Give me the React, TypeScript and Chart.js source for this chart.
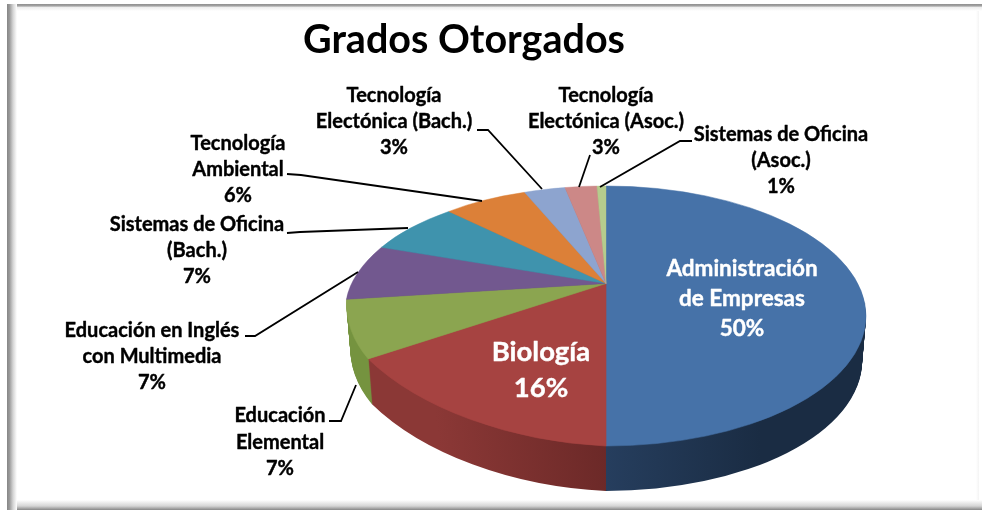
import React, { useEffect, useRef } from "react";
import { Chart, registerables } from "chart.js";

Chart.register(...registerables);

const chartTitle = "Grados Otorgados";
const categories = [
  "Administración de Empresas",
  "Biología",
  "Educación Elemental",
  "Educación en Inglés con Multimedia",
  "Sistemas de Oficina (Bach.)",
  "Tecnología Ambiental",
  "Tecnología Electónica (Bach.)",
  "Tecnología Electónica (Asoc.)",
  "Sistemas de Oficina (Asoc.)",
];
const shares = [50, 16, 7, 7.2, 7, 6.4, 3.2, 2.5, 0.7];
const topColors = ["#4672a8", "#a64341", "#8ba550", "#72588f", "#3f93ad", "#dc8038", "#8da4cf", "#cc8887", "#b5cc8d"];
const sideLeft = ["#263e5e", "#8b3836", "#82a14a", "#4f3d66", "#2b677a", "#9c5a27", "#64749a", "#905f5f", "#809264"];
const sideRight = ["#1a2c43", "#5f2322", "#75933f", "#4f3d66", "#2b677a", "#9c5a27", "#64749a", "#905f5f", "#809264"];
const labelLines = [
  ["Administración", "de Empresas"],
  ["Biología"],
  ["Educación", "Elemental"],
  ["Educación en Inglés", "con Multimedia"],
  ["Sistemas de Oficina", "(Bach.)"],
  ["Tecnología", "Ambiental"],
  ["Tecnología", "Electónica (Bach.)"],
  ["Tecnología", "Electónica (Asoc.)"],
  ["Sistemas de Oficina", "(Asoc.)"],
];
// label layout: centre x, first baseline y, line height, font size, colour
const labelLayout: [number, number, number, number, string][] = [
  [742, 276, 30, 22.5, "#ffffff"],
  [541, 361, 36, 27.5, "#ffffff"],
  [280, 422, 26.5, 20, "#000000"],
  [152, 337, 26, 20, "#000000"],
  [197, 231, 26, 20, "#000000"],
  [238, 150, 26, 20, "#000000"],
  [394, 102, 26, 20, "#000000"],
  [606, 102, 26, 20, "#000000"],
  [781, 141, 26, 20, "#000000"],
];
const leaders: ([number, number][] | null)[] = [
  null,
  null,
  [[329, 421], [341, 421], [356, 385]],
  [[245, 336], [255, 336], [358, 272]],
  [[287, 233], [300, 232], [408, 228]],
  [[287, 174], [301, 175], [482, 201]],
  [[477, 130], [488, 130], [542, 189]],
  [[590, 155], [579, 187]],
  [[692, 141], [680, 141], [600, 187]],
];

const CX = 606;
const APEX_Y = 283.5;
const DEPTH = 45;
const FONT = "Lato, Carlito, sans-serif";

function project(angle: number) {
  const X = Math.cos(angle);
  const Y = Math.sin(angle);
  const dy = 1 - 0.25 * Y;
  const dx = Y < 0 ? dy : 1 - 0.17 * Y;
  return { x: CX + (256 * X) / dx, y: APEX_Y + (121.9 * Y) / dy };
}

// affine matrix that carries one arc element of the round pie onto the tilted disc
function sliceMatrix(el: any): [number, number, number, number, number, number] {
  const r = el.outerRadius;
  if (el.circumference > Math.PI - 0.01) {
    const sx = 260 / r;
    const sy = 130 / r;
    return [sx, 0, 0, sy, CX - el.x * sx, 316 - el.y * sy];
  }
  const p = project(el.startAngle);
  const q = project(el.endAngle);
  const ax = r * Math.cos(el.startAngle);
  const ay = r * Math.sin(el.startAngle);
  const bx = r * Math.cos(el.endAngle);
  const by = r * Math.sin(el.endAngle);
  const det = ax * by - bx * ay;
  const ux = p.x - CX;
  const uy = p.y - APEX_Y;
  const vx = q.x - CX;
  const vy = q.y - APEX_Y;
  const a = (ux * by - vx * ay) / det;
  const c = (vx * ax - ux * bx) / det;
  const b = (uy * by - vy * ay) / det;
  const d = (vy * ax - uy * bx) / det;
  return [a, b, c, d, CX - a * el.x - c * el.y, APEX_Y - b * el.x - d * el.y];
}

const framePlugin = {
  id: "frame",
  beforeDraw(chart: any) {
    const ctx = chart.ctx;
    ctx.save();
    ctx.fillStyle = "#ffffff";
    ctx.fillRect(0, 0, 982, 510);
    let g = ctx.createLinearGradient(976, 0, 979, 0);
    g.addColorStop(0, "#ffffff");
    g.addColorStop(1, "#f4f4f4");
    ctx.fillStyle = g;
    ctx.fillRect(976, 6, 3, 500);
    g = ctx.createLinearGradient(0, 4, 0, 11);
    g.addColorStop(0, "#8f8f8f");
    g.addColorStop(0.3, "#a5a5a5");
    g.addColorStop(0.45, "#ededed");
    g.addColorStop(1, "#ffffff");
    ctx.fillStyle = g;
    ctx.fillRect(7, 4, 975, 7);
    g = ctx.createLinearGradient(0, 500, 0, 510);
    g.addColorStop(0, "#ffffff");
    g.addColorStop(0.6, "#d5d5d5");
    g.addColorStop(1, "#868686");
    ctx.fillStyle = g;
    ctx.fillRect(7, 500, 975, 10);
    g = ctx.createLinearGradient(7, 0, 17, 0);
    g.addColorStop(0, "#858585");
    g.addColorStop(0.25, "#9a9a9a");
    g.addColorStop(0.6, "#d4d4d4");
    g.addColorStop(1, "#ffffff");
    ctx.fillStyle = g;
    ctx.fillRect(7, 4, 10, 506);
    ctx.restore();
  },
};

const tiltedPiePlugin = {
  id: "tiltedPie",
  beforeDatasetsDraw(chart: any) {
    const ctx = chart.ctx;
    const arcs = chart.getDatasetMeta(0).data;
    // side wall, back to front
    for (let i = arcs.length - 1; i >= 0; i--) {
      const el = arcs[i];
      const m = sliceMatrix(el);
      const saved = el.options;
      for (let t = DEPTH; t >= 1; t--) {
        ctx.save();
        const s = 1 - (0.015 * t) / DEPTH;
        ctx.translate(CX, t);
        ctx.scale(s, 1);
        ctx.translate(-CX, 0);
        ctx.transform(...m);
        const inv = ctx.getTransform().inverse();
        const x0 = i === 0 ? 606 : i === 1 ? 375 : 346;
        const x1 = i === 0 ? 760 : i === 1 ? 606 : 375;
        const p0 = inv.transformPoint({ x: x0, y: 0 });
        const p1 = inv.transformPoint({ x: x1, y: 0 });
        const g = ctx.createLinearGradient(p0.x, p0.y, p1.x, p1.y);
        g.addColorStop(0, sideLeft[i]);
        g.addColorStop(1, sideRight[i]);
        el.options = {
          backgroundColor: g,
          borderColor: g,
          borderWidth: 0,
          borderRadius: 0,
          borderAlign: "center",
          offset: 0,
          spacing: 0,
          circular: true,
          selfJoin: false,
        };
        el.draw(ctx);
        ctx.restore();
      }
      el.options = saved;
    }
    // top face
    arcs.forEach((el: any) => {
      ctx.save();
      ctx.transform(...sliceMatrix(el));
      el.draw(ctx);
      ctx.restore();
    });
    return false;
  },
  afterDraw(chart: any) {
    const ctx = chart.ctx;
    ctx.save();
    ctx.strokeStyle = "#000000";
    ctx.lineWidth = 1.8;
    leaders.forEach((pts) => {
      if (!pts) return;
      ctx.beginPath();
      pts.forEach(([x, y], k) => (k ? ctx.lineTo(x, y) : ctx.moveTo(x, y)));
      ctx.stroke();
    });
    ctx.textAlign = "center";
    ctx.textBaseline = "alphabetic";
    ctx.lineWidth = 0.4;
    ctx.lineJoin = "round";
    labelLines.forEach((lines, i) => {
      const [x, y, lh, size, color] = labelLayout[i];
      ctx.font = `bold ${size}px ${FONT}`;
      ctx.fillStyle = color;
      ctx.strokeStyle = color;
      [...lines, `${Math.round(shares[i])}%`].forEach((txt, k) => {
        ctx.fillText(txt, x, y + k * lh);
        ctx.strokeText(txt, x, y + k * lh);
      });
    });
    ctx.restore();
  },
};

export default function App() {
  const ref = useRef<HTMLCanvasElement>(null);
  useEffect(() => {
    const chart = new Chart(ref.current as HTMLCanvasElement, {
      type: "pie",
      data: {
        labels: categories,
        datasets: [{ data: shares, backgroundColor: topColors, borderColor: topColors, borderWidth: 0.6 }],
      },
      options: {
        responsive: false,
        animation: false,
        layout: { padding: { right: 54 } },
        plugins: {
          legend: { display: false },
          tooltip: { enabled: false },
          title: {
            display: true,
            text: chartTitle,
            color: "#000000",
            fullSize: false,
            font: { family: FONT, size: 39.5, weight: "bold" },
            padding: { top: 17, bottom: 4 },
          },
        },
      },
      plugins: [framePlugin, tiltedPiePlugin],
    } as any);
    return () => chart.destroy();
  }, []);
  return (
    <canvas
      ref={ref}
      width={982}
      height={510}
      style={{ position: "absolute", left: 0, top: 0, width: 982, height: 510 }}
    />
  );
}
